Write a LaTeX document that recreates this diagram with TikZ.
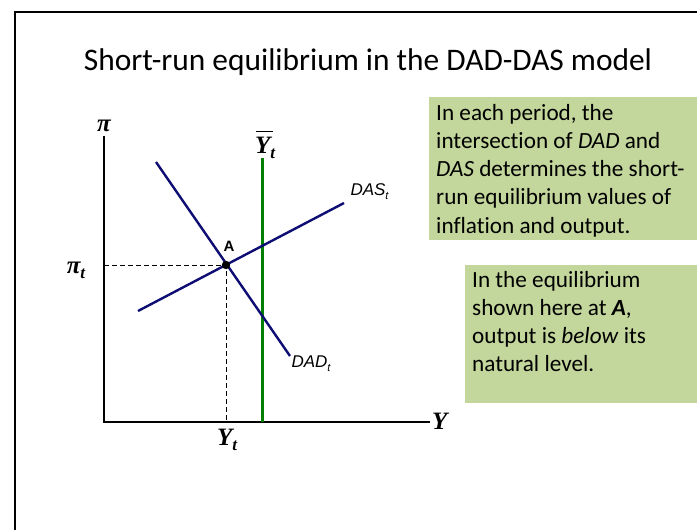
\documentclass[tikz,border=0pt]{standalone}
\usepackage{fontspec}
\setmainfont{Carlito}[Ligatures=NoCommon]
\newfontfamily\serifbf{Liberation Serif}
\newfontfamily\arialf{Liberation Sans}
\definecolor{boxgreen}{HTML}{C3D69B}
\definecolor{curve}{HTML}{0D0D73}
\definecolor{natgreen}{HTML}{008000}
\newcommand{\subt}{\raisebox{-0.45ex}{\fontsize{17}{18}\selectfont t}}
\begin{document}
\begin{tikzpicture}[x=1pt,y=-1pt,
  axis/.style={line width=1.3pt},
  curveline/.style={curve,line width=2.4pt},
  guide/.style={line width=0.8pt,dash pattern=on 5pt off 3pt},
  boxtext/.style={anchor=north west,align=left,font=\fontsize{23.2}{28.2}\selectfont,inner sep=0pt},
  mathlab/.style={font=\serifbf\bfseries\itshape\fontsize{25}{26}\selectfont,inner sep=0pt},
  curvelab/.style={font=\arialf\itshape\fontsize{17}{20}\selectfont}]
\useasboundingbox (0,0) rectangle (697,530);
\fill[white] (0,0) rectangle (697,530);
% frame
\draw[line width=2.4pt] (15,540) -- (15,12) -- (710,12);
% title
\node[font=\fontsize{31.4}{34}\selectfont,anchor=base] (title) at (368,70) {Short-run equilibrium in the DAD-DAS model};
% info boxes
\fill[boxgreen] (429,97) rectangle (697,240);
\node[boxtext] (t1) at (436,104) {In each period, the\\intersection of \textit{DAD} and\\\textit{DAS} determines the short-\\run equilibrium values of\\inflation and output.};
\fill[boxgreen] (465,265) rectangle (697,403);
\node[boxtext] (t2) at (472,271) {In the equilibrium\\shown here at \textbf{\textit{A}},\\output is \textit{below} its\\natural level.};
% axes
\coordinate (O) at (104,422);
\coordinate (ytop) at (104,136);
\coordinate (xend) at (430,422);
\draw[axis] (ytop) -- (O) -- (xend);
\node[mathlab,anchor=west] (Ylab) at (432,421) {Y};
\node[mathlab] (pilab) at (104,126) {π};
% curves
\coordinate (dad1) at (156,162);
\coordinate (dad2) at (290,356);
\coordinate (das1) at (138,311);
\coordinate (das2) at (344,203);
\coordinate (A) at (226,265);
\coordinate (Ax) at (104,265);
\coordinate (Ay) at (226,422);
\coordinate (ybar1) at (262,158);
\coordinate (ybar2) at (262,422);
\draw[guide] (Ax) -- (A) -- (Ay);
\draw[natgreen,line width=3pt] (ybar1) -- (ybar2);
\draw[curveline] (dad1) -- (dad2);
\draw[curveline] (das1) -- (das2);
\fill (A) circle (4.2pt);
\node[font=\arialf\bfseries\fontsize{15}{16}\selectfont] (Alab) at (229,246) {A};
\node[curvelab,anchor=west] (daslab) at (347,192) {DAS\rlap{\raisebox{-0.45ex}{\fontsize{11}{12}\selectfont t}}};
\node[curvelab,anchor=west] (dadlab) at (288,364) {DAD\rlap{\raisebox{-0.45ex}{\fontsize{11}{12}\selectfont t}}};
\node[mathlab] (pit) at (76,270) {π\subt};
\node[mathlab] (Yt) at (227,440) {Y\subt};
\node[mathlab] (Ybar) at (265,145) {\rlap{\hspace{1pt}\raisebox{21pt}{\rule{17pt}{1.3pt}}}Y\subt};
\end{tikzpicture}
\end{document}
